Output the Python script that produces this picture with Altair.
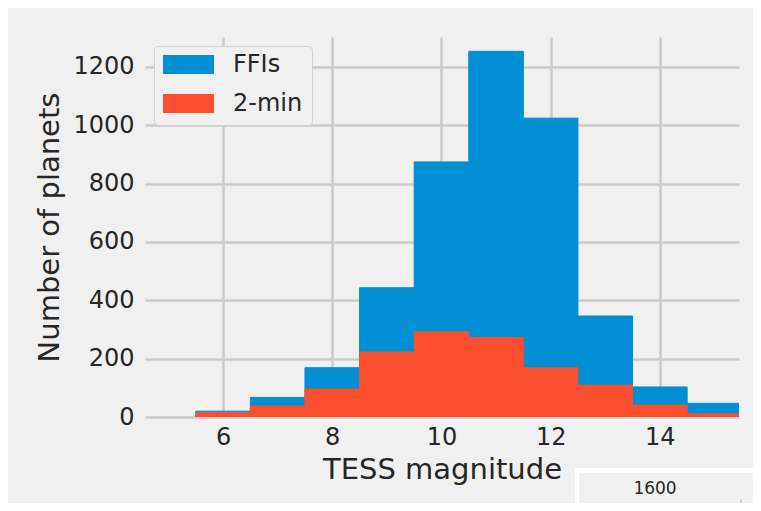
import altair as alt
import pandas as pd

# histogram bins (TESS magnitude, width 1)
bin_start = [5.5, 6.5, 7.5, 8.5, 9.5, 10.5, 11.5, 12.5, 13.5, 14.5]
bin_end = [6.5, 7.5, 8.5, 9.5, 10.5, 11.5, 12.5, 13.5, 14.5, 15.5]
ffi_counts = [20, 67, 169, 443, 874, 1253, 1024, 346, 103, 47]
twomin_counts = [15, 38, 96, 223, 292, 272, 169, 109, 41, 11]
series_names = ["FFIs", "2-min"]
series_colors = ["#008fd5", "#fc4f30"]
x_ticks = [6, 8, 10, 12, 14]
y_ticks = [0, 200, 400, 600, 800, 1000, 1200]

rows = []
for k, (name, counts) in enumerate(zip(series_names, [ffi_counts, twomin_counts])):
    for b0, b1, c in zip(bin_start, bin_end, counts):
        rows.append({"start": b0, "end": b1, "count": c, "base": 0,
                     "series": name, "ord": k})
df = pd.DataFrame(rows)

FONT = "DejaVu Sans"
TXT = "#262626"

cscale = alt.Scale(domain=series_names, range=series_colors)

bars = alt.Chart(df).mark_bar(clip=True, strokeWidth=1, opacity=1).encode(
    x=alt.X("start:Q",
            scale=alt.Scale(domain=[4.57, 15.45], nice=False, zero=False),
            axis=alt.Axis(values=x_ticks, title="TESS magnitude", format="d")),
    x2="end:Q",
    y=alt.Y("count:Q", stack=None,
            scale=alt.Scale(domain=[0, 1302], nice=False),
            axis=alt.Axis(values=y_ticks, title="Number of planets", format="d")),
    y2="base:Q",
    color=alt.Color("series:N", scale=cscale, sort=series_names,
                    legend=alt.Legend(title=None, orient="none", legendX=9, legendY=9,
                                      fillColor="#f0f0f0", strokeColor="#d0d0d0",
                                      cornerRadius=4, padding=9,
                                      symbolType="M-1,-0.37H1V0.37H-1Z",
                                      symbolSize=2601, symbolStrokeWidth=0,
                                      symbolOpacity=1,
                                      labelFontSize=24, labelFont=FONT, labelColor=TXT,
                                      labelOffset=19, clipHeight=19, rowPadding=14)),
    stroke=alt.Stroke("series:N", scale=cscale, legend=None),
    order=alt.Order("ord:Q"),
)

# decoration: corner of a neighbouring figure at the bottom right
deco_df = pd.DataFrame({"label": ["1600"]})
inset_white = alt.Chart(deco_df).mark_rect(color="white").encode(
    x=alt.value(430), x2=alt.value(700), y=alt.value(431), y2=alt.value(520))
inset_gray = alt.Chart(deco_df).mark_rect(color="#f0f0f0").encode(
    x=alt.value(434), x2=alt.value(700), y=alt.value(436), y2=alt.value(520))
inset_tick = alt.Chart(deco_df).mark_rule(color="#cbcbcb", strokeWidth=1.5).encode(
    x=alt.value(596), y=alt.value(462), y2=alt.value(480))
inset_text = alt.Chart(deco_df).mark_text(font=FONT, fontSize=17, color=TXT,
                                           baseline="middle").encode(
    x=alt.value(510), y=alt.value(452), text="label:N")

chart = alt.layer(bars, inset_white, inset_gray, inset_tick, inset_text).properties(
    width=594, height=380,
    autosize=alt.AutoSizeParams(type="none"),
    padding={"left": 137, "top": 29, "right": 14, "bottom": 86},
    background="#f0f0f0",
).configure_view(stroke=None, fill="#f0f0f0").configure_axis(
    grid=True, gridColor="#cbcbcb", gridWidth=2.5, domain=False, ticks=False,
    labelFont=FONT, labelFontSize=24, labelColor=TXT,
    titleFont=FONT, titleFontWeight="normal", titleColor=TXT, titleFontSize=29,
).configure_axisX(labelPadding=8, titlePadding=6).configure_axisY(
    labelPadding=11, titlePadding=8)

chart.save("out.html", embed_options={"renderer": "svg", "actions": False})
